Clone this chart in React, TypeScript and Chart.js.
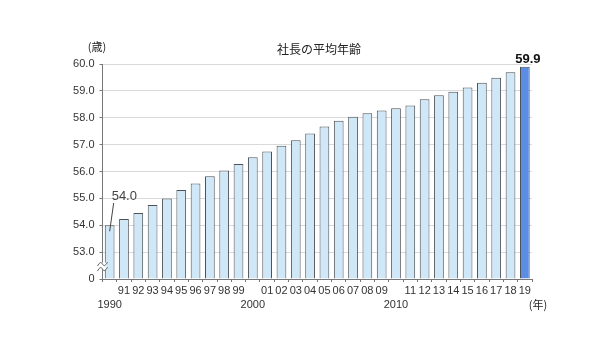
import React, { useEffect, useRef } from "react";
import { Chart, registerables } from "chart.js";

Chart.register(...registerables);

const years: string[] = [
  "1990", "91", "92", "93", "94", "95", "96", "97", "98", "99",
  "2000", "01", "02", "03", "04", "05", "06", "07", "08", "09",
  "2010", "11", "12", "13", "14", "15", "16", "17", "18", "19",
];
const ages: number[] = [
  54.0, 54.23, 54.46, 54.75, 55.0, 55.31, 55.55, 55.82, 56.04, 56.28,
  56.53, 56.74, 56.96, 57.16, 57.41, 57.67, 57.89, 58.04, 58.17, 58.27,
  58.35, 58.46, 58.69, 58.84, 58.97, 59.13, 59.3, 59.49, 59.69, 59.9,
];
const yTicks: number[] = [52, 53, 54, 55, 56, 57, 58, 59, 60];
const title = "社長の平均年齢";
const yUnit = "(歳)";
const xUnit = "(年)";

const FONT = "'Liberation Sans', Arial, sans-serif";
const JP = "'Noto Sans CJK JP', sans-serif";

const labels = years.map((y) => (y.length === 4 ? ["", y] : [y, ""]));

const overlay = {
  id: "overlay",
  afterDraw(chart: any) {
    const ctx = chart.ctx;
    const x = chart.scales.x;
    const y = chart.scales.y;
    const area = chart.chartArea;
    ctx.save();
    ctx.fillStyle = "#222";
    ctx.font = `12px ${JP}`;
    ctx.textAlign = "center";
    ctx.textBaseline = "middle";
    ctx.fillText(title, 319, 49);
    ctx.font = `11px ${JP}`;
    ctx.fillText(yUnit, 97, 47);
    ctx.fillText(xUnit, 538, 305);
    // axis break
    const by = (y.getPixelForValue(52) + y.getPixelForValue(53)) / 2 + 1;
    ctx.fillStyle = "#fff";
    ctx.fillRect(area.left - 4, by - 4, 8, 7);
    ctx.strokeStyle = "#666";
    ctx.lineWidth = 1;
    for (const off of [-2.5, 2.5]) {
      ctx.beginPath();
      ctx.moveTo(area.left - 5, by + off + 2);
      ctx.quadraticCurveTo(area.left - 2, by + off - 4, area.left, by + off);
      ctx.quadraticCurveTo(area.left + 2, by + off + 4, area.left + 5, by + off - 2);
      ctx.stroke();
    }
    // first label with leader
    const x0 = x.getPixelForValue(0);
    const y0 = y.getPixelForValue(ages[0]);
    ctx.strokeStyle = "#444";
    ctx.beginPath();
    ctx.moveTo(x0 + 4, 203);
    ctx.lineTo(x0, y0 + 6);
    ctx.stroke();
    ctx.fillStyle = "#444";
    ctx.font = `13px ${FONT}`;
    ctx.textAlign = "left";
    ctx.fillText(ages[0].toFixed(1), x0 + 2, 196);
    // last label
    const n = ages.length - 1;
    const xn = x.getPixelForValue(n);
    const yn = y.getPixelForValue(ages[n]);
    ctx.fillStyle = "#111";
    ctx.font = `bold 13px ${FONT}`;
    ctx.textAlign = "center";
    ctx.textBaseline = "bottom";
    ctx.fillText(ages[n].toFixed(1), xn + 3, yn - 1);
    ctx.restore();
  },
};

export default function App() {
  const ref = useRef<HTMLCanvasElement>(null);
  useEffect(() => {
    document.body.style.margin = "0";
    const chart = new Chart(ref.current!, {
      type: "bar",
      data: {
        labels,
        datasets: [
          {
            data: ages,
            base: 52,
            backgroundColor: ages.map((_, i) => (i === ages.length - 1 ? "#5b8de4" : "#cfe7f6")),
            borderColor: "#4d5257",
            borderWidth: 1,
            borderSkipped: "bottom",
            barPercentage: 0.68,
            categoryPercentage: 1,
          } as any,
        ],
      },
      options: {
        animation: false,
        responsive: false,
        maintainAspectRatio: false,
        layout: { padding: { left: 0, right: 68, top: 64, bottom: 0 } },
        plugins: { legend: { display: false }, tooltip: { enabled: false }, title: { display: false } },
        scales: {
          x: {
            afterFit: (s: any) => { s.height = 78; },
            grid: { drawOnChartArea: false, drawTicks: true, tickLength: 3, color: "#777", offset: true },
            border: { color: "#777" },
            ticks: {
              autoSkip: false,
              maxRotation: 0,
              padding: 2,
              color: "#333",
              font: { family: FONT, size: 11, lineHeight: 1.25 },
            },
          },
          y: {
            min: 52,
            max: 60,
            afterFit: (s: any) => { s.width = 102.5; },
            afterBuildTicks: (s: any) => { s.ticks = yTicks.map((v) => ({ value: v })); },
            grid: { color: "#dadada", tickLength: 3, tickColor: "#777" },
            border: { color: "#777" },
            ticks: {
              padding: 5,
              color: "#333",
              font: { family: FONT, size: 11 },
              callback: (v: any) => (v === 52 ? "0" : Number(v).toFixed(1)),
            },
          },
        },
      },
      plugins: [overlay],
    });
    return () => chart.destroy();
  }, []);
  return (
    <div style={{ width: 600, height: 357, background: "#fff" }}>
      <canvas ref={ref} width={600} height={357} style={{ display: "block" }} />
    </div>
  );
}
